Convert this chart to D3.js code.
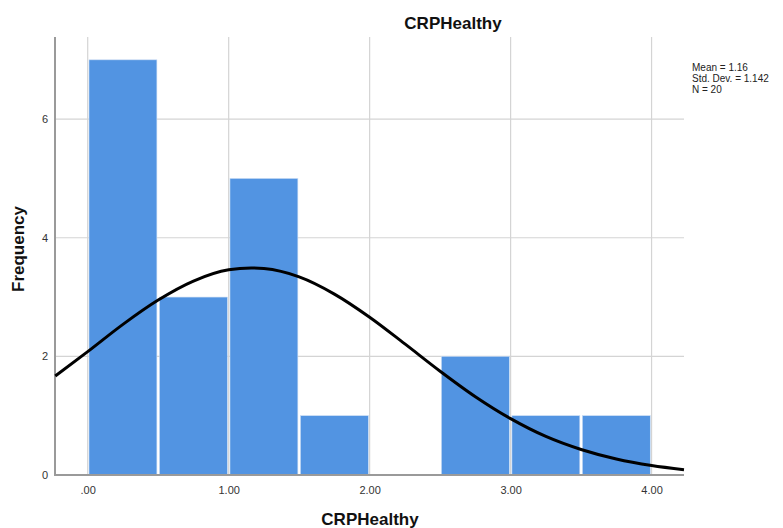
<!DOCTYPE html>
<html>
<head>
<meta charset="utf-8">
<script src="https://cdn.jsdelivr.net/npm/d3@7"></script>
<style>
  html, body { margin: 0; padding: 0; background: #fff; }
  svg { display: block; font-family: "Liberation Sans", Arial, sans-serif; }
</style>
</head>
<body>
<svg id="chart" width="783" height="528"></svg>
<script>
// ---- data ----
const binStarts = [0, 0.5, 1.0, 1.5, 2.0, 2.5, 3.0, 3.5];
const binWidth = 0.5;
const frequencies = [7, 3, 5, 1, 0, 2, 1, 1];
const xTicks = [0, 1, 2, 3, 4];
const xTickLabels = [".00", "1.00", "2.00", "3.00", "4.00"];
const yTicks = [0, 2, 4, 6];
const curveX = [-0.23, 0, 0.25, 0.5, 0.75, 1.0, 1.16, 1.25, 1.5, 1.75, 2.0, 2.25, 2.5, 2.75, 3.0, 3.25, 3.5, 3.75, 4.0, 4.23];
const curveY = [1.67, 2.08, 2.54, 2.95, 3.27, 3.46, 3.49, 3.48, 3.34, 3.05, 2.66, 2.21, 1.75, 1.32, 0.95, 0.65, 0.43, 0.27, 0.16, 0.09];
const statsLines = ["Mean = 1.16", "Std. Dev. = 1.142", "N = 20"];
const titleText = "CRPHealthy";
const xLabel = "CRPHealthy";
const yLabel = "Frequency";

// ---- layout ----
const svg = d3.select("#chart");
const pLeft = 55, pRight = 684, pTop = 37, pBottom = 475;
const x = d3.scaleLinear().domain([-0.232, 4.23]).range([pLeft, pRight]);
const y = d3.scaleLinear().domain([0, 7.385]).range([pBottom, pTop]);

// gridlines
const grid = svg.append("g");
grid.selectAll("line.h").data(yTicks.filter(d => d > 0)).join("line")
  .attr("class", "h")
  .attr("x1", pLeft).attr("x2", pRight)
  .attr("y1", d => y(d)).attr("y2", d => y(d))
  .attr("stroke", "#d4d4d4").attr("stroke-width", 1.2);
grid.selectAll("line.v").data(xTicks).join("line")
  .attr("class", "v")
  .attr("x1", d => x(d)).attr("x2", d => x(d))
  .attr("y1", pTop).attr("y2", pBottom)
  .attr("stroke", "#d4d4d4").attr("stroke-width", 1.2);

// bars
svg.append("g").selectAll("rect").data(binStarts.map((s, i) => ({s, f: frequencies[i]})).filter(d => d.f > 0))
  .join("rect")
  .attr("x", d => x(d.s) + 1.3)
  .attr("width", d => x(d.s + binWidth) - x(d.s) - 2.6)
  .attr("y", d => y(d.f))
  .attr("height", d => y(0) - y(d.f))
  .attr("fill", "#5294e2")
  .attr("stroke", "#c9dcf3").attr("stroke-width", 0.6);

// axes
const xAxis = d3.axisBottom(x).tickValues(xTicks).tickFormat((d, i) => xTickLabels[i]).tickSize(0).tickPadding(11);
const gx = svg.append("g").attr("transform", `translate(0,${pBottom})`).call(xAxis);
gx.select(".domain").attr("stroke", "#9a9a9a").attr("stroke-width", 2).attr("d", `M${pLeft},0H${pRight}`);
gx.selectAll("text").attr("font-size", 11).attr("fill", "#333").attr("font-family", "Liberation Sans, Arial, sans-serif");

const yAxis = d3.axisLeft(y).tickValues(yTicks).tickFormat(d3.format("d")).tickSize(0).tickPadding(0);
const gy = svg.append("g").attr("transform", `translate(${pLeft},0)`).call(yAxis);
gy.select(".domain").attr("stroke", "#9a9a9a").attr("stroke-width", 2).attr("d", `M0,${pTop}V${pBottom + 1}`);
gy.selectAll("text").attr("font-size", 11).attr("fill", "#333").attr("x", -7).attr("font-family", "Liberation Sans, Arial, sans-serif");

// normal curve
const line = d3.line().x(d => x(d)).y((d, i) => y(curveY[i])).curve(d3.curveMonotoneX);
svg.append("path").attr("d", line(curveX))
  .attr("fill", "none").attr("stroke", "#000").attr("stroke-width", 3);

// title & labels
svg.append("text").attr("x", 453).attr("y", 29).attr("text-anchor", "middle")
  .attr("font-size", 17).attr("font-weight", "bold").attr("fill", "#111").text(titleText);
svg.append("text").attr("x", 370).attr("y", 525).attr("text-anchor", "middle")
  .attr("font-size", 17).attr("font-weight", "bold").attr("fill", "#111").text(xLabel);
svg.append("text").attr("transform", "translate(24,249) rotate(-90)").attr("text-anchor", "middle")
  .attr("font-size", 17).attr("font-weight", "bold").attr("fill", "#111").text(yLabel);

// stats text
svg.append("g").selectAll("text").data(statsLines).join("text")
  .attr("x", 692).attr("y", (d, i) => 71 + i * 11)
  .attr("font-size", 10).attr("fill", "#222").text(d => d);
</script>
</body>
</html>
